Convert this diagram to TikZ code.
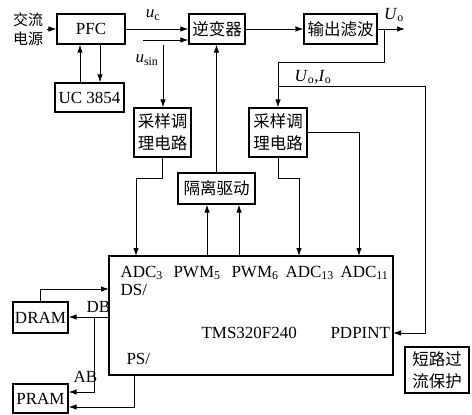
\documentclass[tikz,border=0pt]{standalone}
\usepackage{fontspec}
\setmainfont{Liberation Serif}
\newfontfamily\cjk{Noto Sans CJK SC}
\usetikzlibrary{arrows.meta,positioning,calc}

\begin{document}
\begin{tikzpicture}[x=1pt, y=-1pt,
    blk/.style={rectangle, draw, line width=1.1pt, inner sep=0pt, align=center,
                font=\cjk\fontsize{16.5}{22}\selectfont},
    ltx/.style={font=\fontsize{17}{20}\selectfont},
    pin/.style={anchor=base west, font=\fontsize{17}{20}\selectfont},
    arr/.style={line width=1pt, -{Latex[length=8pt,width=5.5pt]}}
  ]
  \useasboundingbox (0,0) rectangle (472,415);

  % power stage
  \node[align=center, font=\cjk\fontsize{15}{19}\selectfont] (src) at (28,29) {交流\\电源};
  \node[blk, ltx, minimum width=68, minimum height=30] (pfc) at (91,29) {PFC};
  \node[blk, ltx, minimum width=69, minimum height=29] (uc)  at (89.5,97.5) {UC 3854};
  \node[blk, minimum width=56, minimum height=30] (inv)  at (217,29) {逆变器};
  \node[blk, minimum width=73, minimum height=30] (filt) at (340.5,29) {输出滤波};

  % sampling and drive
  \node[blk, minimum width=57, minimum height=49] (smpA) at (162.5,132.5) {采样调\\理电路};
  \node[blk, minimum width=58, minimum height=49] (smpB) at (278,132.5) {采样调\\理电路};
  \node[blk, minimum width=77, minimum height=31] (drv)  at (216.5,188.5) {隔离驱动};

  % DSP, memories, protection
  \node[blk, minimum width=284, minimum height=119] (dsp) at (251,315.5) {};
  \node[blk, ltx, minimum width=55, minimum height=31] (dram) at (40.5,317.5) {DRAM};
  \node[blk, ltx, minimum width=55, minimum height=29] (pram) at (40.5,398.5) {PRAM};
  \node[blk, minimum width=64, minimum height=46] (prot) at (437,370) {短路过\\流保护};

  % DSP pins
  \node[pin] (lA3)  at (117,277) {ADC\textsubscript{3}};
  \node[pin] (lW5)  at (170,277) {PWM\textsubscript{5}};
  \node[pin] (lW6)  at (228,277) {PWM\textsubscript{6}};
  \node[pin] (lA13) at (282,277) {ADC\textsubscript{13}};
  \node[pin] (lA11) at (337,277) {ADC\textsubscript{11}};
  \node[pin] (lDS)  at (117,295) {DS/};
  \node[pin] (lchip) at (198,338) {TMS320F240};
  \node[pin] (lPD)  at (327,338) {PDPINT};
  \node[pin] (lPS)  at (123,364) {PS/};
  \node[pin] (lDB)  at (83,312) {DB};
  \node[pin] (lAB)  at (70,382) {AB};

  \coordinate (pA3)  at (136,256);
  \coordinate (pW5)  at (207,256);
  \coordinate (pW6)  at (239,256);
  \coordinate (pA13) at (299,256);
  \coordinate (pA11) at (359,256);
  \coordinate (pDS)  at (109,289);
  \coordinate (pDB)  at (109,317);
  \coordinate (pPS)  at (134,375);
  \coordinate (pPD)  at (393,333);

  % signal labels
  \node[ltx] (luc)   at (153,15) {\textit{u}\textsubscript{c}};
  \node[ltx] (lsin)  at (147,60) {\textit{u}\textsubscript{sin}};
  \node[ltx] (luo)   at (394,15) {\textit{U}\textsubscript{o}};
  \node[ltx] (luoio) at (313,77) {\textit{U}\textsubscript{o},\textit{I}\textsubscript{o}};

  % power path
  \draw[arr] (src.east) -- (pfc.west);
  \draw[arr] (uc.north -| 80,0) -- (pfc.south -| 80,0);
  \draw[arr] (pfc.south -| 100,0) -- (uc.north -| 100,0);
  \draw[arr] (pfc.east) -- (inv.west);
  \draw[arr] (inv.east) -- (filt.west);
  \coordinate (uo) at (405,29);
  \draw[arr] (filt.east) -- (uo);

  % reference sine
  \coordinate (usin) at (143,40);
  \draw[arr] (usin) -- (usin -| inv.west);
  \coordinate (sdn) at (163,45);
  \draw[arr] (sdn) -- (sdn |- smpA.north);

  % feedback
  \coordinate (tap) at (384,29);
  \draw[arr] (tap) -- ++(0,33) -| (smpB.north);
  \coordinate (fb) at (278,86);
  \draw[arr] (fb) -- (425,86) |- (pPD);

  % sampling to DSP
  \draw[arr] (smpA.south) -- ++(0,21) -| (pA3);
  \draw[arr] (smpB.south) -- ++(0,21) -| (pA13);
  \draw[arr] (smpB.east) -| (pA11);

  % PWM to driver
  \draw[arr] (pW5) -- (pW5 |- drv.south);
  \draw[arr] (pW6) -- (pW6 |- drv.south);
  \draw[arr] (drv.north) -- (drv.north |- inv.south);

  % memories
  \draw[arr] (dram.north) |- (pDS);
  \draw[arr] (pDB) -- (pDB -| dram.east);
  \coordinate (ab) at (94,317);
  \draw[arr] (ab) |- ([yshift=6.5pt]pram.east);
  \draw[arr] (pPS) |- ([yshift=-8.5pt]pram.east);
\end{tikzpicture}
\end{document}
